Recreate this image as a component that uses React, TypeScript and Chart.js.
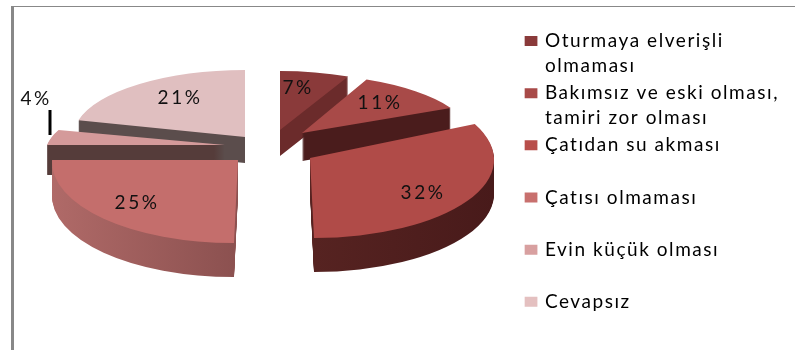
import React, { useEffect, useRef } from "react";
import { Chart, registerables } from "chart.js";

Chart.register(...registerables);

const categories = ["Oturmaya elverişli olmaması", "Bakımsız ve eski olması, tamiri zor olması", "Çatıdan su akması", "Çatısı olmaması", "Evin küçük olması", "Cevapsız"];
const legendLines = [["Oturmaya elverişli", "olmaması"], ["Bakımsız ve eski olması,", "tamiri zor olması"], ["Çatıdan su akması", ""], ["Çatısı olmaması", ""], ["Evin küçük olması", ""], ["Cevapsız", ""]];
const values = [7, 11, 32, 25, 4, 21];
const topColors = ["#8a3a3a", "#a84a48", "#b04b48", "#c46e6c", "#d49a9a", "#e0bfc0"];
const legendColors = ["#8a3a3a", "#a84a48", "#b84e4a", "#c8706e", "#d8a0a0", "#e4c0c0"];
const wallLeft = ["#6b2b2b", "#4a1c1c", "#642c28", "#b06a68", "#553c3a", "#5b4d4c"];
const wallRight = ["#6b2b2b", "#4a1c1c", "#481a1a", "#683838", "#553c3a", "#5b4d4c"];

// Exploded, perspective placement of each slice: apex, ellipse radii, shear, thickness
const apexX = [280, 302, 310, 238, 225, 245];
const apexY = [130, 133, 158, 160, 145, 137];
const radiusX = [160, 168, 184, 186, 178, 172];
const radiusY = [59, 59, 80, 83, 60, 67];
const shear = [0, 0.048, 0.025, -0.025, -0.15, 0];
const depth = [26, 28, 34, 34, 30, 26];
const labelX = [298, 380, 423, 137, 36, 180];
const labelY = [88, 103, 193, 203, 99, 98];
const paintOrder = [0, 5, 1, 4, 3, 2];
const FONT = "Lato";
const SPACING = "1.55px";

const pie3d = {
  id: "pie3d",
  beforeUpdate(chart: any) {
    chart.ctx.letterSpacing = SPACING;
  },
  beforeLayout(chart: any) {
    chart.ctx.letterSpacing = SPACING;
  },
  beforeDraw(chart: any) {
    const ctx = chart.ctx;
    ctx.letterSpacing = SPACING;
    ctx.save();
    ctx.fillStyle = "#888888";
    ctx.fillRect(11, 6, 3, 344);
    ctx.fillRect(11, 6, 784, 1);
    ctx.restore();
  },
  beforeDatasetDraw(chart: any) {
    const ctx = chart.ctx;
    const meta = chart.getDatasetMeta(0);
    for (const i of paintOrder) {
      const arc = meta.data[i];
      const { x: cx, y: cy, outerRadius: R } = arc.getProps(["x", "y", "outerRadius"], true);
      const place = (d: number) => {
        ctx.translate(apexX[i], apexY[i] + d);
        ctx.transform(radiusX[i] / R, 0, shear[i], radiusY[i] / R, 0, 0);
        ctx.translate(-cx, -cy);
      };
      const original = arc.options;
      ctx.save();
      const g = ctx.createLinearGradient(cx - R, 0, cx + R, 0);
      g.addColorStop(0, wallLeft[i]);
      g.addColorStop(1, wallRight[i]);
      arc.options = { ...original, backgroundColor: g, borderWidth: 0 };
      for (let d = depth[i]; d >= 1; d--) {
        ctx.save();
        place(d);
        arc.draw(ctx);
        ctx.restore();
      }
      arc.options = { ...original, backgroundColor: topColors[i], borderWidth: 0 };
      ctx.save();
      place(0);
      arc.draw(ctx);
      ctx.restore();
      arc.options = original;
      ctx.restore();
    }
    return false;
  },
  afterDatasetsDraw(chart: any) {
    const ctx = chart.ctx;
    ctx.save();
    ctx.fillStyle = "#111111";
    ctx.font = `19px ${FONT}`;
    ctx.textAlign = "center";
    ctx.textBaseline = "middle";
    ctx.letterSpacing = "2.5px";
    values.forEach((v, i) => ctx.fillText(`${v}%`, labelX[i], labelY[i]));
    ctx.strokeStyle = "#000000";
    ctx.lineWidth = 3;
    ctx.beginPath();
    ctx.moveTo(labelX[4] + 14, labelY[4] + 11);
    ctx.lineTo(labelX[4] + 14, apexY[4] - 10);
    ctx.stroke();
    ctx.restore();
  },
};

export default function App() {
  const ref = useRef<HTMLCanvasElement>(null);
  useEffect(() => {
    document.body.style.margin = "0";
    const chart = new Chart(ref.current!, {
      type: "pie",
      data: {
        labels: categories,
        datasets: [{ data: values, backgroundColor: legendColors, borderWidth: 0 }],
      },
      plugins: [pie3d],
      options: {
        animation: false,
        responsive: false,
        events: [],
        rotation: 0,
        layout: { padding: { top: 29.5, right: 6 } },
        plugins: {
          tooltip: { enabled: false },
          legend: {
            position: "right",
            align: "start",
            labels: {
              boxWidth: 9,
              boxHeight: 6,
              padding: 2,
              color: "#111111",
              font: { family: FONT, size: 19, lineHeight: 1.32 },
              generateLabels: () =>
                legendLines.map((text, i) => ({
                  text,
                  fillStyle: legendColors[i],
                  strokeStyle: legendColors[i],
                  lineWidth: 4,
                  lineJoin: "miter",
                  hidden: false,
                  index: i,
                })),
            },
          },
        },
      },
    } as any);
    return () => chart.destroy();
  }, []);
  return <canvas ref={ref} width={795} height={350} style={{ display: "block", filter: "blur(0.5px)" }} />;
}
